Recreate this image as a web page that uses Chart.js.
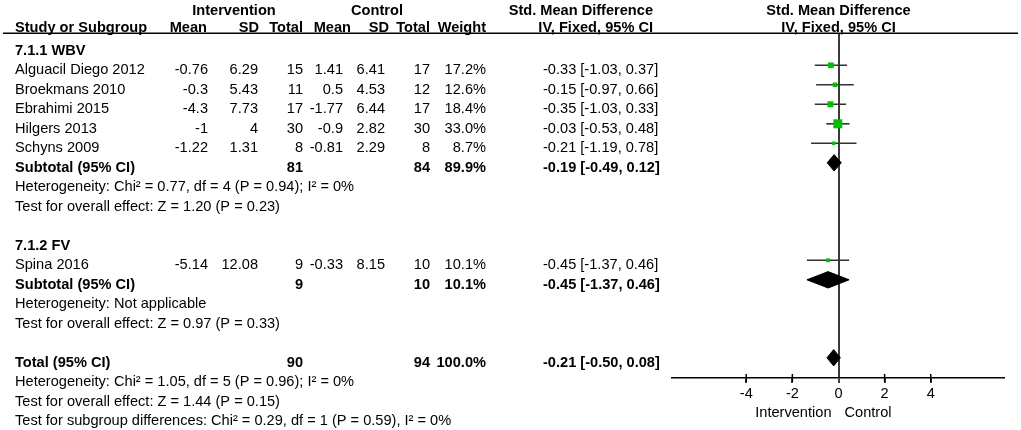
<!DOCTYPE html>
<html><head><meta charset="utf-8">
<script src="https://cdn.jsdelivr.net/npm/chart.js@4.4.0/dist/chart.umd.min.js"></script>
<style>html,body{margin:0;padding:0;background:#fff}#wrap{position:relative;width:1021px;height:430px}</style>
</head><body><div id="wrap"><canvas id="c"></canvas></div>
<script>
// ---------- data ----------
const groupNames = ['7.1.1 WBV', '7.1.2 FV'];
const studyNames = ['Alguacil Diego 2012', 'Broekmans 2010', 'Ebrahimi 2015', 'Hilgers 2013', 'Schyns 2009', 'Spina 2016'];
const studyGroup = [0, 0, 0, 0, 0, 1];
const intMean = [-0.76, -0.3, -4.3, -1, -1.22, -5.14];
const intSD = [6.29, 5.43, 7.73, 4, 1.31, 12.08];
const intN = [15, 11, 17, 30, 8, 9];
const ctlMean = [1.41, 0.5, -1.77, -0.9, -0.81, -0.33];
const ctlSD = [6.41, 4.53, 6.44, 2.82, 2.29, 8.15];
const ctlN = [17, 12, 17, 30, 8, 10];
const weights = [17.2, 12.6, 18.4, 33.0, 8.7, 10.1];
const smd = [-0.33, -0.15, -0.35, -0.03, -0.21, -0.45];
const ciLow = [-1.03, -0.97, -1.03, -0.53, -1.19, -1.37];
const ciHigh = [0.37, 0.66, 0.33, 0.48, 0.78, 0.46];

const subIntN = [81, 9];
const subCtlN = [84, 10];
const subWeight = [89.9, 10.1];
const subSmd = [-0.19, -0.45];
const subLow = [-0.49, -1.37];
const subHigh = [0.12, 0.46];
const subHet = ['Heterogeneity: Chi² = 0.77, df = 4 (P = 0.94); I² = 0%', 'Heterogeneity: Not applicable'];
const subTest = ['Test for overall effect: Z = 1.20 (P = 0.23)', 'Test for overall effect: Z = 0.97 (P = 0.33)'];

const totIntN = 90, totCtlN = 94, totWeight = 100.0;
const totSmd = -0.21, totLow = -0.50, totHigh = 0.08;
const totNotes = ['Heterogeneity: Chi² = 1.05, df = 5 (P = 0.96); I² = 0%',
  'Test for overall effect: Z = 1.44 (P = 0.15)',
  'Test for subgroup differences: Chi² = 0.29, df = 1 (P = 0.59), I² = 0%'];

const xTicks = [-4, -2, 0, 2, 4];
const xTickLabels = ['-4', '-2', '0', '2', '4'];
const favourLabels = ['Intervention', 'Control'];

// ---------- layout of rows (computed from structure) ----------
const rows = [];
let r = -1;
const studyRow = [], subRow = [];
groupNames.forEach((g, gi) => {
  rows.push({ kind: 'group', gi, row: r++ });
  studyNames.forEach((s, si) => { if (studyGroup[si] === gi) { studyRow[si] = r; rows.push({ kind: 'study', si, row: r++ }); } });
  subRow[gi] = r; rows.push({ kind: 'sub', gi, row: r++ });
  rows.push({ kind: 'text', text: subHet[gi], row: r++ });
  rows.push({ kind: 'text', text: subTest[gi], row: r++ });
  r++;
});
const totRow = r;
rows.push({ kind: 'total', row: r++ });
totNotes.forEach(t => rows.push({ kind: 'text', text: t, row: r++ }));

// ---------- styles ----------
const FONT = '"Liberation Sans", Arial, Helvetica, sans-serif';
const FS = 14.6;
const GREEN = '#00c000';
const LINE = '#333333';
const DIAMOND_H = 0.42;

const fmt2 = v => v.toFixed(2);
const ciText = (e, l, h) => `${fmt2(e)} [${fmt2(l)}, ${fmt2(h)}]`;
const wText = w => w.toFixed(1) + '%';

const COL = { study: 15, intMean: 208, intSD: 258, intN: 303, ctlMean: 343, ctlSD: 385, ctlN: 430, weight: 486, ci: 543 };

const yMin = (33 - 65.3) / 19.5, yMax = (378 - 65.3) / 19.5;

// ---------- datasets ----------
const sq = w => 0.776 * Math.pow(w, 0.7) / Math.SQRT2;
const datasets = [];
datasets.push({
  type: 'line', showLine: false, order: 0,
  data: smd.map((v, i) => ({ x: v, y: studyRow[i] })),
  pointStyle: 'rect',
  pointRadius: weights.map(sq),
  pointHoverRadius: weights.map(sq),
  pointBackgroundColor: GREEN, pointBorderWidth: 0, pointBorderColor: GREEN
});
smd.forEach((v, i) => {
  datasets.push({
    type: 'line', order: 1,
    data: [{ x: ciLow[i], y: studyRow[i] }, { x: ciHigh[i], y: studyRow[i] }],
    borderColor: LINE, borderWidth: 1.6, pointRadius: 0, pointHoverRadius: 0, fill: false
  });
});
const diamonds = subSmd.map((e, gi) => ({ e, l: subLow[gi], h: subHigh[gi], row: subRow[gi] }));
diamonds.push({ e: totSmd, l: totLow, h: totHigh, row: totRow });
diamonds.forEach(d => {
  datasets.push({
    type: 'line', order: 0,
    data: [{ x: d.l, y: d.row }, { x: d.e, y: d.row - DIAMOND_H }, { x: d.h, y: d.row }, { x: d.e, y: d.row + DIAMOND_H }, { x: d.l, y: d.row }],
    borderColor: '#000', backgroundColor: '#000', borderWidth: 1, borderJoinStyle: 'miter',
    fill: 'shape', pointRadius: 0, pointHoverRadius: 0
  });
});
// tick marks crossing the axis line
datasets.push({
  type: 'line', showLine: false, order: 2, clip: false,
  data: xTicks.filter(v => v !== 0).map(v => ({ x: v, y: yMax })),
  pointStyle: 'line', rotation: 90, pointRadius: 4, pointHoverRadius: 4,
  pointBorderColor: '#000', pointBorderWidth: 1.5, pointBackgroundColor: '#000'
});

// ---------- text plugin ----------
const textPlugin = {
  id: 'forestText',
  afterDraw(chart) {
    const ctx = chart.ctx;
    const ys = chart.scales.y, xs = chart.scales.x;
    const reg = `${FS}px ${FONT}`, bold = `bold ${FS}px ${FONT}`;
    const put = (t, x, y, align, f) => { ctx.font = f || reg; ctx.textAlign = align || 'left'; ctx.fillText(t, x, y); };
    ctx.save();
    ctx.fillStyle = '#000';
    ctx.textBaseline = 'alphabetic';
    // header rows
    const h1 = 15, h2 = 31.5;
    put('Intervention', 234, h1, 'center', bold);
    put('Control', 377, h1, 'center', bold);
    put('Std. Mean Difference', 653, h1, 'right', bold);
    put('Std. Mean Difference', xs.getPixelForValue(0), h1, 'center', bold);
    put('Study or Subgroup', COL.study, h2, 'left', bold);
    put('Mean', 207, h2, 'right', bold);
    put('SD', 259, h2, 'right', bold);
    put('Total', COL.intN, h2, 'right', bold);
    put('Mean', 351, h2, 'right', bold);
    put('SD', 389, h2, 'right', bold);
    put('Total', COL.ctlN, h2, 'right', bold);
    put('Weight', COL.weight, h2, 'right', bold);
    put('IV, Fixed, 95% CI', 653, h2, 'right', bold);
    put('IV, Fixed, 95% CI', xs.getPixelForValue(0), h2, 'center', bold);
    // rule under header
    ctx.strokeStyle = '#000'; ctx.lineWidth = 1.5;
    ctx.beginPath(); ctx.moveTo(3, 33.25); ctx.lineTo(1018, 33.25); ctx.stroke();
    // body rows
    rows.forEach(rw => {
      const y = ys.getPixelForValue(rw.row) + 8.7;
      if (rw.kind === 'group') put(groupNames[rw.gi], COL.study, y, 'left', bold);
      else if (rw.kind === 'study') {
        const i = rw.si;
        put(studyNames[i], COL.study, y);
        put(String(intMean[i]), COL.intMean, y, 'right');
        put(String(intSD[i]), COL.intSD, y, 'right');
        put(String(intN[i]), COL.intN, y, 'right');
        put(String(ctlMean[i]), COL.ctlMean, y, 'right');
        put(String(ctlSD[i]), COL.ctlSD, y, 'right');
        put(String(ctlN[i]), COL.ctlN, y, 'right');
        put(wText(weights[i]), COL.weight, y, 'right');
        put(ciText(smd[i], ciLow[i], ciHigh[i]), COL.ci, y, 'left');
      } else if (rw.kind === 'sub') {
        const g = rw.gi;
        put('Subtotal (95% CI)', COL.study, y, 'left', bold);
        put(String(subIntN[g]), COL.intN, y, 'right', bold);
        put(String(subCtlN[g]), COL.ctlN, y, 'right', bold);
        put(wText(subWeight[g]), COL.weight, y, 'right', bold);
        put(ciText(subSmd[g], subLow[g], subHigh[g]), COL.ci, y, 'left', bold);
      } else if (rw.kind === 'total') {
        put('Total (95% CI)', COL.study, y, 'left', bold);
        put(String(totIntN), COL.intN, y, 'right', bold);
        put(String(totCtlN), COL.ctlN, y, 'right', bold);
        put(wText(totWeight), COL.weight, y, 'right', bold);
        put(ciText(totSmd, totLow, totHigh), COL.ci, y, 'left', bold);
      } else put(rw.text, COL.study, y);
    });
    // favours labels
    const zx = xs.getPixelForValue(0);
    put(favourLabels[0], zx - 7, 416.5, 'right');
    put(favourLabels[1], zx + 6, 416.5, 'left');
    ctx.restore();
  }
};

new Chart(document.getElementById('c'), {
  type: 'line',
  data: { datasets },
  options: {
    responsive: true, maintainAspectRatio: false, animation: false,
    events: [],
    layout: { padding: { left: 672, right: 16, top: 33, bottom: 0 } },
    plugins: { legend: { display: false }, tooltip: { enabled: false }, title: { display: false } },
    scales: {
      x: {
        type: 'linear', position: 'bottom', min: -7.22, max: 7.22,
        afterBuildTicks: s => { s.ticks = xTicks.map(v => ({ value: v })); },
        afterFit: s => { s.height = 52; },
        ticks: {
          autoSkip: false, maxRotation: 0, padding: 2, color: '#000',
          font: { family: FONT, size: FS },
          callback: v => { const k = xTicks.indexOf(v); return k >= 0 ? xTickLabels[k] : ''; }
        },
        grid: {
          drawOnChartArea: true, drawTicks: true, tickLength: 5, tickColor: '#000', tickWidth: 1.5,
          color: c => (c.tick && c.tick.value === 0) ? '#3a3a3a' : 'rgba(0,0,0,0)',
          lineWidth: c => (c.tick && c.tick.value === 0) ? 2 : 0
        },
        border: { display: true, color: '#000', width: 1.5 }
      },
      y: { type: 'linear', display: false, reverse: true, min: yMin, max: yMax }
    }
  },
  plugins: [textPlugin]
});
</script>
</body></html>
